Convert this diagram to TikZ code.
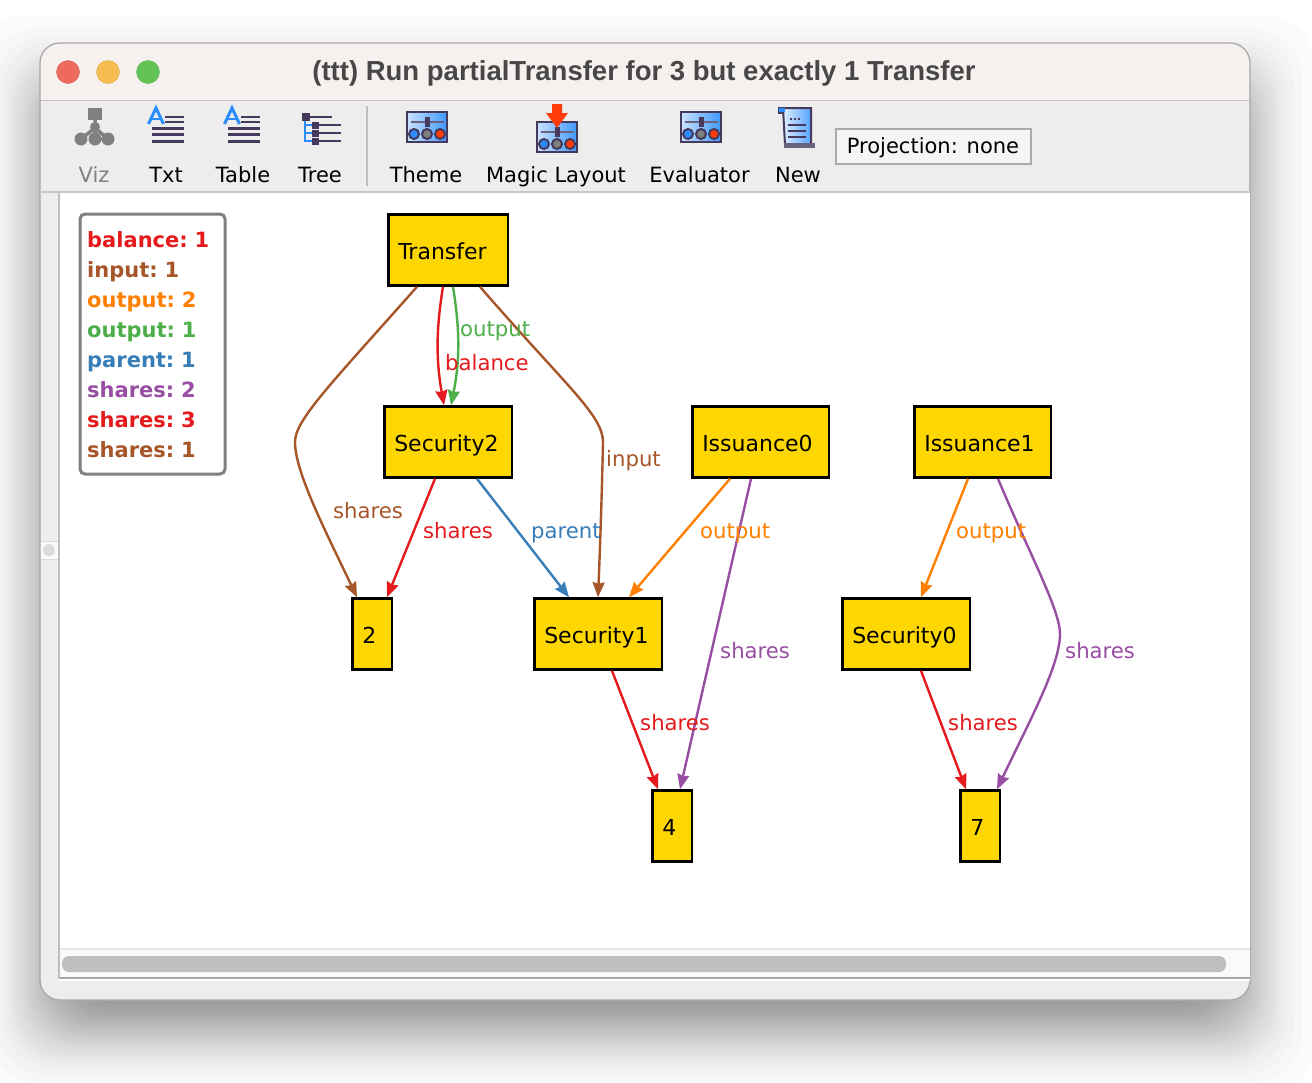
\documentclass[tikz,border=0pt]{standalone}
\usepackage{fontspec}
\setmainfont{DejaVu Sans}
\newfontfamily\titlefont{Liberation Sans}
\newfontfamily\legendfont[WordSpace=0.6]{DejaVu Sans}
\usetikzlibrary{positioning,arrows.meta}
\definecolor{myred}{HTML}{E41A1C}
\definecolor{mybrown}{HTML}{A65628}
\definecolor{myorange}{HTML}{FF7F00}
\definecolor{mygreen}{HTML}{4DAF4A}
\definecolor{myblue}{HTML}{377EB8}
\definecolor{mypurple}{HTML}{984EA3}
\definecolor{boxgold}{HTML}{FFD700}
\definecolor{inkdark}{HTML}{453A5C}
\definecolor{iconblue}{HTML}{2A8CFF}
\definecolor{iconred}{HTML}{FF3C0A}
\definecolor{barfill}{HTML}{F6F1EE}
\definecolor{lightred}{HTML}{EE6A5F}
\definecolor{lightyellow}{HTML}{F5BD4F}
\definecolor{lightgreen}{HTML}{61C454}
\newcommand{\slidersicon}[1]{
\begin{scope}[shift={(#1)}]
\draw[inkdark, line width=2pt, left color=iconblue!25, right color=iconblue!90] (0,0) rectangle (40,30);
\draw[inkdark!80, line width=2pt] (4,10) -- (37,10);
\fill[inkdark] (17.5,5) rectangle (22.5,15);
\fill[iconblue, draw=inkdark, line width=2pt] (7,22) circle (5pt);
\fill[gray, draw=inkdark, line width=2pt] (20,22) circle (5pt);
\fill[iconred, draw=inkdark, line width=2pt] (33,22) circle (5pt);
\end{scope}}
\newcommand{\alinesicon}[1]{
\begin{scope}[shift={(#1)}]
\draw[iconblue, line width=3pt] (0.5,17) -- (8,1) -- (15.5,17);
\draw[iconblue, line width=2.5pt] (3,12) -- (13,12);
\draw[inkdark, line width=2.5pt] (17,10) -- (36,10);
\draw[inkdark, line width=2.5pt] (17,15) -- (36,15);
\draw[inkdark, line width=3pt] (4,21) -- (36,21);
\draw[inkdark, line width=3pt] (4,27) -- (36,27);
\draw[inkdark, line width=3pt] (4,34) -- (36,34);
\end{scope}}

\begin{document}
\begin{tikzpicture}[x=1pt, y=-1pt,
main/.style = {draw, rectangle, fill=boxgold, line width=2.5pt, text width=#1, align=left, inner xsep=10pt, minimum height=71pt, text height=18pt, text depth=0pt, font=\fontsize{22}{26}\selectfont},
link/.style = {-{Stealth[length=15pt,width=12pt,inset=1.5pt]}, line width=2.4pt},
lbl/.style = {anchor=base west, inner sep=0pt, font=\fontsize{21.2}{25}\selectfont},
tool/.style = {anchor=base, inner sep=0pt, font=\fontsize{21}{25}\selectfont},
legendtxt/.style = {anchor=base west, inner sep=0pt, font=\fontsize{21}{25}\selectfont\legendfont\bfseries},
node distance={192pt}]
\useasboundingbox (0,0) rectangle (1312,1082);
\clip (0,0) rectangle (1312,1082);

\foreach \s in {1,3,5,7,9,11,13,15,17,20,23,26,29,33,38,44,52,65,-1,-3,-5,-7,-9,-11,-13,-15,-17,-20,-23,-26,-29,-33,-38,-44,-52,-65}
  \fill[black, opacity=0.014, rounded corners=50pt] ({40-\s},{80-\s}) rectangle ({1250+\s},{1030+\s});

\fill[black!7, rounded corners=20pt] (40,43) rectangle (1250,1000);
\fill[barfill, rounded corners=20pt] (40,100) -- (40,43) -- (1250,43) -- (1250,100);
\draw[black!22, line width=1.5pt] (40,100.5) -- (1250,100.5);
\draw[black!35, line width=1.2pt, rounded corners=20pt] (40,43) rectangle (1250,1000);
\fill[white] (59,193) rectangle (1250,977);
\draw[black!22, line width=1.5pt] (40,192) -- (1250,192);
\draw[black!25, line width=1.2pt] (59,192) -- (59,978);
\fill[black!2] (59.6,949) rectangle (1250,977);
\draw[black!10, line width=1.5pt] (59.6,949) -- (1250,949);
\draw[black!35, line width=1.2pt] (59,978) -- (1250,978);
\fill[white] (59,979) rectangle (1250,980.5);
\fill[black!25, rounded corners=7pt] (62,956) rectangle (1226,972);
\fill[black!2] (40.6,541) rectangle (58.4,559);
\draw[black!14, line width=1pt] (40.6,541) -- (58.4,541) (40.6,559) -- (58.4,559);
\fill[black!14] (49,550) circle (6pt);

\fill[lightred, draw=lightred!90!black] (68,72) circle (11.5pt);
\fill[lightyellow, draw=lightyellow!90!black] (108,72) circle (11.5pt);
\fill[lightgreen, draw=lightgreen!90!black] (148,72) circle (11.5pt);
\node[inner sep=0pt, anchor=base, text=black!72, font=\fontsize{27.5}{32}\selectfont\titlefont\bfseries] (title) at (644,80.5) {(ttt) Run partialTransfer for 3 but exactly 1 Transfer};

\fill[black!50] (88,108) rectangle (102,120);
\draw[black!50, line width=3.5pt] (95,120) -- (95,130) (81,139) -- (95,128) -- (108,139) (95,130) -- (95,139);
\fill[black!50] (81,139) circle (6.5pt) (95,139) circle (6.5pt) (108,139) circle (6.5pt) (95,127) circle (5pt);
\alinesicon{148,107}
\alinesicon{224,107}
\draw[iconblue, line width=2.5pt] (305,120) -- (305,141) -- (316,141) (305,125) -- (316,125) (305,133) -- (316,133);
\fill[inkdark] (302,113) rectangle (310,121);
\draw[inkdark, line width=2pt] (310,117) -- (332,117);
\foreach \y in {125,133,141} {
  \fill[inkdark] (312,\y-3.5) rectangle (319,\y+3.5);
  \draw[inkdark, line width=2pt] (319,\y) -- (341,\y);
}
\draw[black!25, line width=2pt] (367,106) -- (367,186);
\slidersicon{407,112}
\slidersicon{537,122}
\fill[iconred] (552,104) -- (562,104) -- (562,113) -- (568,113) -- (557,128) -- (546,113) -- (552,113) -- cycle;
\slidersicon{681,112}
\fill[inkdark] (778,107) rectangle (791,114);
\draw[inkdark, line width=2pt, left color=iconblue!15, right color=iconblue!80] (783,108) -- (811,108) -- (811,145) -- (785,145) -- cycle;
\fill[iconblue] (779,108) rectangle (785,112);
\draw[inkdark!80, line width=5pt] (784,145) -- (815,145);
\draw[inkdark, line width=2pt, dotted] (790,119) -- (801,119);
\draw[inkdark, line width=2pt] (788,125) -- (806,125) (788,131) -- (806,131) (788,137) -- (806,137);

\node[tool, text=black!50] (viz) at (94,182) {Viz};
\node[tool] (txt) at (166,182) {Txt};
\node[tool] (table) at (243,182) {Table};
\node[tool] (tree) at (320,182) {Tree};
\node[tool] (theme) at (426,182) {Theme};
\node[tool] (magic) at (556,182) {Magic Layout};
\node[tool] (evaluator) at (699.5,182) {Evaluator};
\node[tool] (new) at (798,182) {New};
\node[draw=black!33, fill=black!4, line width=2pt, minimum width=195pt, minimum height=35pt, inner sep=0pt, text height=15pt, text depth=0pt, font=\fontsize{21}{25}\selectfont] (projection) at (933,146) {Projection: none};

\draw[black!50, line width=3pt, fill=white, rounded corners=5pt] (80,214) rectangle (225,474);
\foreach \txt/\col [count=\i from 0] in {balance: 1/myred, input: 1/mybrown, output: 2/myorange, output: 1/mygreen, parent: 1/myblue, shares: 2/mypurple, shares: 3/myred, shares: 1/mybrown}
  \node[legendtxt, text=\col] (legend\i) at (87,247+30*\i) {\txt};

\node[main=99.5pt] (Transfer) at (448,250) {Transfer};
\node[main=107.5pt] (Security2) [below of=Transfer] {Security2};
\node[main=116.5pt] (Issuance0) [right of=Security2, xshift=120.5pt] {Issuance0};
\node[main=116.5pt] (Issuance1) [right of=Issuance0, xshift=30pt] {Issuance1};
\node[main=19.5pt] (n2) [below of=Security2, xshift=-76pt] {2};
\node[main=107.5pt] (Security1) [below of=Security2, xshift=150pt] {Security1};
\node[main=107.5pt] (Security0) [below of=Issuance1, xshift=-76.5pt] {Security0};
\node[main=19.5pt] (n4) [below of=Security1, xshift=74pt] {4};
\node[main=19.5pt] (n7) [below of=Security0, xshift=74pt] {7};

\coordinate (bendshares) at (295,442);
\coordinate (bendinput) at (603,442);
\coordinate (bendpurple) at (1060,634);

\draw[link, mybrown] ([xshift=-31pt]Transfer.south) .. controls (330,385) and (295,420) .. (bendshares) .. controls (295,472) and (325,530) .. ([xshift=-15pt]n2.north);
\draw[link, myred] ([xshift=-5pt]Transfer.south) .. controls (436,330) and (436,360) .. ([xshift=-4pt]Security2.north);
\draw[link, mygreen] ([xshift=5pt]Transfer.south) .. controls (460,330) and (460,360) .. ([xshift=3pt]Security2.north);
\draw[link, mybrown] ([xshift=32pt]Transfer.south) .. controls (565,385) and (603,415) .. (bendinput) .. controls (602,490) and (600,550) .. (Security1.north);
\draw[link, myred] ([xshift=-13pt]Security2.south) -- ([xshift=15pt]n2.north);
\draw[link, myblue] ([xshift=29pt]Security2.south) -- ([xshift=-29pt]Security1.north);
\draw[link, myorange] ([xshift=-30.5pt]Issuance0.south) -- ([xshift=31pt]Security1.north);
\draw[link, mypurple] ([xshift=-9.5pt]Issuance0.south) -- ([xshift=8pt]n4.north);
\draw[link, myorange] ([xshift=-14.5pt]Issuance1.south) -- ([xshift=15pt]Security0.north);
\draw[link, mypurple] ([xshift=15.5pt]Issuance1.south) .. controls (1030,555) and (1060,610) .. (bendpurple) .. controls (1060,665) and (1030,720) .. ([xshift=17pt]n7.north);
\draw[link, myred] ([xshift=14pt]Security1.south) -- ([xshift=-14pt]n4.north);
\draw[link, myred] ([xshift=15pt]Security0.south) -- ([xshift=-14pt]n7.north);

\node[lbl, text=mygreen] (loutgreen) at (460,336) {output};
\node[lbl, text=myred] (lbalance) at (445,370) {balance};
\node[lbl, text=mybrown] (linput) at (606,466) {input};
\node[lbl, text=mybrown] (lsharesbrown) at (333,518) {shares};
\node[lbl, text=myred] (lsharesred) at (423,538) {shares};
\node[lbl, text=myblue] (lparent) at (531,538) {parent};
\node[lbl, text=myorange] (loutzero) at (700,538) {output};
\node[lbl, text=myorange] (loutone) at (956,538) {output};
\node[lbl, text=mypurple] (lsharespa) at (720,658) {shares};
\node[lbl, text=mypurple] (lsharespb) at (1065,658) {shares};
\node[lbl, text=myred] (lsharesa) at (640,730) {shares};
\node[lbl, text=myred] (lsharesb) at (948,730) {shares};
\end{tikzpicture}
\end{document}
